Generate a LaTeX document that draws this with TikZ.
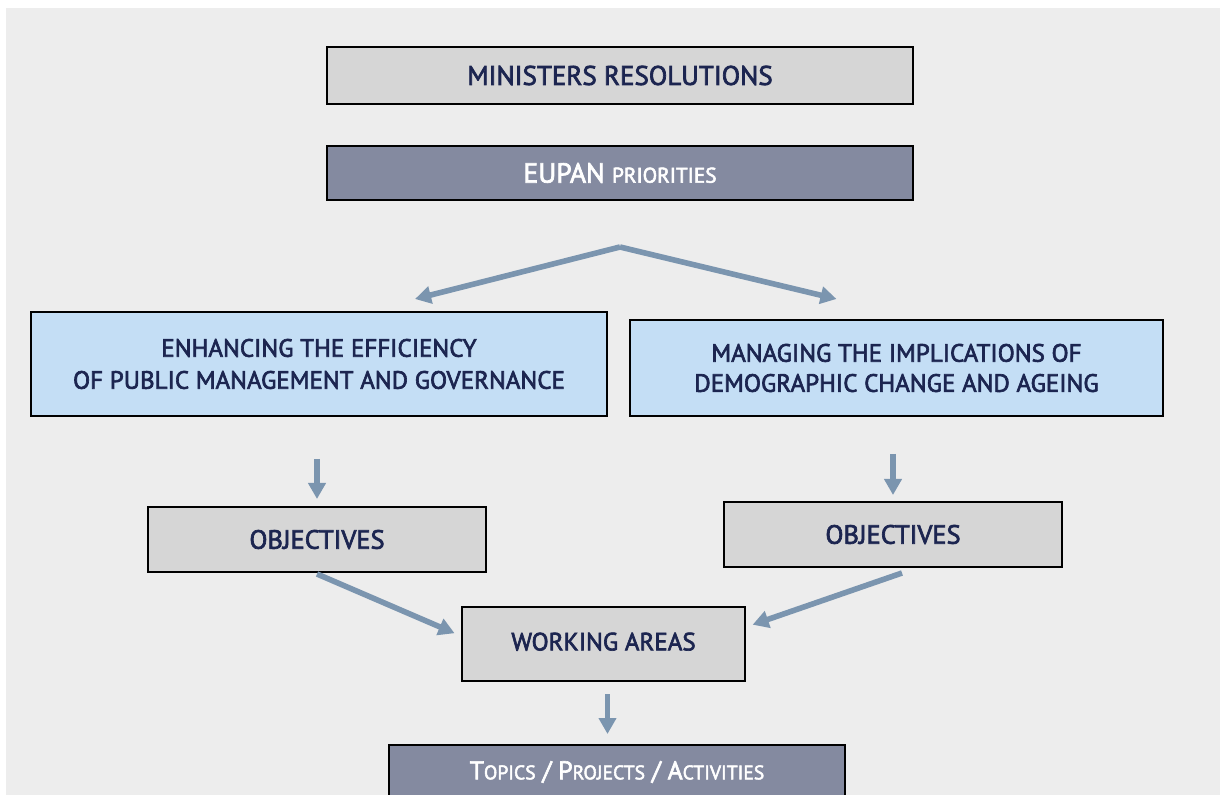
\documentclass[tikz,border=0pt]{standalone}
\usepackage{fontspec}
\setmainfont{PT Sans}[FakeBold=2.6]
\usepackage{tikz}
\usetikzlibrary{arrows.meta}

% colours of the chart
\definecolor{pageGrey}{HTML}{EDEDED}
\definecolor{boxGrey}{HTML}{D6D6D6}
\definecolor{boxSlate}{HTML}{848AA0}
\definecolor{boxBlue}{HTML}{C4DEF5}
\definecolor{arrowBlue}{HTML}{7B95AF}
\definecolor{textNavy}{HTML}{1C2550}

\begin{document}
\begin{tikzpicture}[
        x=0.5pt, y=-0.5pt, % one unit is one pixel of the chart, y runs downwards
        % plain grey boxes
        greybox/.style={draw=black, line width=1pt, fill=boxGrey, text=textNavy,
            inner sep=0pt, align=center, font=\fontsize{13.2}{16}\selectfont},
        % dark boxes with white text
        slatebox/.style={greybox, fill=boxSlate, text=white},
        % the two priority boxes
        bluebox/.style={greybox, fill=boxBlue, font=\fontsize{12.5}{16}\selectfont},
        % thick pale arrows
        flow/.style={draw=arrowBlue, line width=2.8pt,
            -{Triangle[width=8.5pt,length=8pt]}}
    ]

    % page background
    \useasboundingbox (0,0) rectangle (1220,795);
    \clip (0,0) rectangle (1220,795);
    \fill[pageGrey] (6,8) rectangle (1220,795);

    % top of the chart
    \node[greybox, minimum width=293pt, minimum height=28.5pt,
          font=\fontsize{13.5}{16}\selectfont] (ministers) at (620,75.5)
        {MINISTERS RESOLUTIONS};
    \node[slatebox, minimum width=293pt, minimum height=27pt,
          font=\fontsize{13.8}{16}\selectfont] (eupan) at (620,173)
        {EUPAN {\fontsize{10.6}{16}\selectfont PRIORITIES}};

    % the two priorities
    \node[bluebox, minimum width=288pt, minimum height=52pt] (efficiency) at (319,364)
        {ENHANCING THE EFFICIENCY\\OF PUBLIC MANAGEMENT AND GOVERNANCE};
    \node[bluebox, minimum width=266.5pt, minimum height=48pt] (ageing) at (896.5,368)
        {\raisebox{-3.5pt}{\shortstack{MANAGING THE IMPLICATIONS OF\\[3pt]DEMOGRAPHIC CHANGE AND AGEING}}};

    % objectives and working areas
    \node[greybox, minimum width=169pt, minimum height=32.5pt] (objleft) at (317,539.5)
        {OBJECTIVES};
    \node[greybox, minimum width=169pt, minimum height=32.5pt] (objright) at (893,534.5)
        {OBJECTIVES};
    \node[greybox, minimum width=141.5pt, minimum height=37pt,
          font=\fontsize{12.5}{16}\selectfont] (areas) at (603.5,644)
        {\raisebox{2.5pt}{WORKING AREAS}};
    \node[slatebox, minimum width=228pt, minimum height=27pt,
          font=\fontsize{12.8}{16}\selectfont] (topics) at (617,772)
        {\raisebox{-1pt}{T{\fontsize{9.8}{16}\selectfont OPICS} / P{\fontsize{9.8}{16}\selectfont ROJECTS}
         / A{\fontsize{9.8}{16}\selectfont CTIVITIES}}};

    % fork below the priorities box
    \coordinate (fork) at ([yshift=-23pt]eupan.south);
    \draw[flow] (fork) -- ([xshift=48pt,yshift=6pt]efficiency.north);
    \draw[flow] (fork) -- ([xshift=-30pt,yshift=10pt]ageing.north);

    % down to the objectives
    \draw[flow, shorten <=21pt, shorten >=3.5pt] (efficiency.south -| objleft.north) -- (objleft.north);
    \draw[flow, shorten <=18.5pt, shorten >=3pt] (ageing.south -| objright.north) -- (objright.north);

    % objectives join in the working areas
    \draw[flow, shorten >=3.5pt] ([yshift=-0.5pt]objleft.south) -- ([yshift=4pt]areas.west);
    \draw[flow, shorten >=3.5pt] ([xshift=4.5pt,yshift=-2.5pt]objright.south) -- ([yshift=8.5pt]areas.east);

    % down to the topics
    \draw[flow, shorten <=6pt, shorten >=5pt] ([xshift=2pt]areas.south) -- ([xshift=2pt]areas.south |- topics.north);

\end{tikzpicture}
\end{document}
